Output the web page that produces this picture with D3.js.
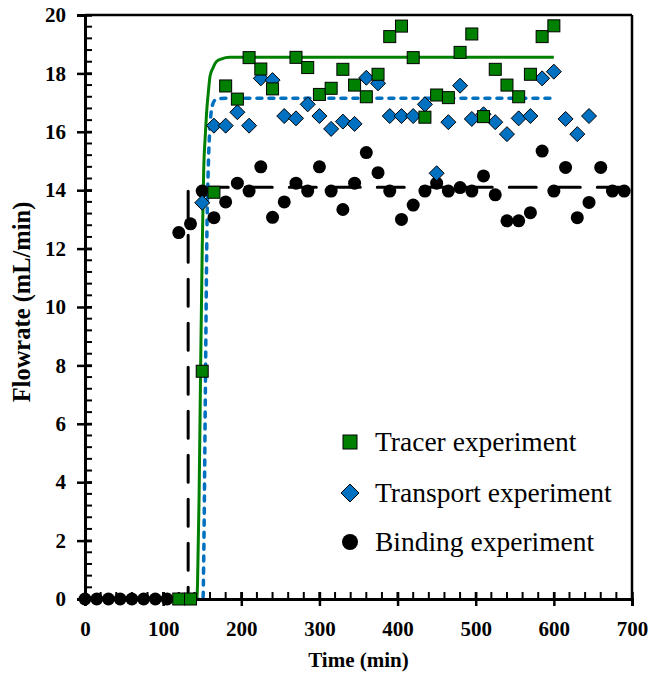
<!DOCTYPE html>
<html><head><meta charset="utf-8">
<script src="https://cdn.jsdelivr.net/npm/d3@7"></script>
<style>body{margin:0;background:#fff} svg{display:block}</style>
</head><body>
<svg id="chart" width="655" height="679"></svg>
<script>
// ---------- data ----------
const xTicks = [0,100,200,300,400,500,600,700];
const yTicks = [0,2,4,6,8,10,12,14,16,18,20];

const tracerTime = [120,135,150,165,180,195,210,225,240,270,285,300,315,330,345,360,375,390,405,420,435,450,465,480,495,510,525,540,555,570,585,600];
const tracerFlow = [0,0,7.8,13.93,17.57,17.12,18.54,18.15,17.47,18.55,18.2,17.28,17.49,18.14,17.6,17.2,17.97,19.26,19.62,18.54,16.5,17.26,17.17,18.72,19.35,16.52,18.14,17.6,17.2,17.97,19.26,19.63];

const transportTime = [150,165,180,195,210,225,240,255,270,285,300,315,330,345,360,375,390,405,420,435,450,465,480,495,510,525,540,555,570,585,600,615,630,645];
const transportFlow = [13.57,16.21,16.21,16.67,16.21,17.83,17.77,16.54,16.46,16.94,16.54,16.1,16.35,16.27,17.85,17.66,16.54,16.54,16.54,16.94,14.58,16.33,17.58,16.44,16.6,16.33,15.92,16.46,16.54,17.83,18.06,16.44,15.92,16.54];

const bindingTime = [0,15,30,45,60,75,90,105,120,135,150,165,180,195,210,225,240,255,270,285,300,315,330,345,360,375,390,405,420,435,450,465,480,495,510,525,540,555,570,585,600,615,630,645,660,675,690];
const bindingFlow = [0,0,0,0,0,0,0,0,12.55,12.85,13.97,13.06,13.6,14.24,13.97,14.8,13.07,13.6,14.24,13.97,14.8,13.97,13.34,14.24,15.29,14.6,13.97,13.0,13.49,13.97,14.24,13.97,14.09,13.97,14.49,13.84,12.95,12.95,13.23,15.34,13.97,14.78,13.06,13.58,14.78,13.97,13.97];

const tracerModelTime = [0,143,144,146,148,150,152,154,156,158,160,164,168,175,185,600];
const tracerModelFlow = [0,0,0.5,3.5,8,12,14.8,15.9,16.8,17.4,17.9,18.2,18.4,18.5,18.55,18.55];

const transportModelTime = [0,151,152,154,156,158,160,163,167,172,180,600];
const transportModelFlow = [0,0,1.5,7,12.5,15,16.2,16.9,17.1,17.13,17.15,17.15];

const bindingModelTime = [0,132,132,700];
const bindingModelFlow = [0,0,14.1,14.1];

const legendLabels = ["Tracer experiment","Transport experiment","Binding experiment"];

// ---------- drawing ----------
const GREEN = "#008000", BLUE = "#0070C0", BLACK = "#000";
const FONT = "'Liberation Serif','Times New Roman',serif";
const svg = d3.select("#chart");
const x = d3.scaleLinear().domain([0,700]).range([85,632]);
const y = d3.scaleLinear().domain([0,20]).range([599,15]);
const zip = (a,b) => a.map((v,i)=>[v,b[i]]);

// model lines
svg.append("path").datum(zip(bindingModelTime,bindingModelFlow))
  .attr("d", d3.line().x(d=>x(d[0])).y(d=>y(d[1])).curve(d3.curveLinear)).attr("fill","none").attr("stroke",BLACK)
  .attr("stroke-width",3).attr("stroke-dasharray","27,17").attr("stroke-linecap","round").attr("stroke-linejoin","round");
svg.append("path").datum(zip(transportModelTime,transportModelFlow))
  .attr("d", d3.line().x(d=>x(d[0])).y(d=>y(d[1])).curve(d3.curveMonotoneX)).attr("fill","none").attr("stroke",BLUE)
  .attr("stroke-width",3.5).attr("stroke-dasharray","5,7").attr("stroke-linecap","round");
svg.append("path").datum(zip(tracerModelTime,tracerModelFlow))
  .attr("d", d3.line().x(d=>x(d[0])).y(d=>y(d[1])).curve(d3.curveMonotoneX)).attr("fill","none").attr("stroke",GREEN)
  .attr("stroke-width",3);

// axes frame
const frame = svg.append("g").attr("stroke",BLACK).attr("fill","none");
frame.append("line").attr("x1",x(0)).attr("x2",x(700)).attr("y1",y(20)).attr("y2",y(20)).attr("stroke-width",2.5);
frame.append("line").attr("x1",x(700)).attr("x2",x(700)).attr("y1",y(20)).attr("y2",y(0)).attr("stroke-width",2.5);

// minor ticks
svg.append("g").selectAll("line").data(d3.range(0,701,20)).join("line")
  .attr("x1",d=>x(d)).attr("x2",d=>x(d)).attr("y1",y(0)).attr("y2",y(0)-7)
  .attr("stroke",BLACK).attr("stroke-width",2);
svg.append("g").selectAll("line").data(d3.range(0,20.01,0.4)).join("line")
  .attr("y1",d=>y(d)).attr("y2",d=>y(d)).attr("x1",x(0)).attr("x2",x(0)+7)
  .attr("stroke",BLACK).attr("stroke-width",2);

// x axis
const gx = svg.append("g").attr("transform",`translate(0,${y(0)})`)
  .call(d3.axisBottom(x).tickValues(xTicks).tickSize(7).tickPadding(15).tickFormat(d3.format("d")));
gx.select(".domain").attr("stroke-width",3);
gx.selectAll(".tick line").attr("y1",-7).attr("stroke-width",2.5);
gx.selectAll(".tick text").attr("font-family",FONT).attr("font-weight","bold").attr("font-size",21).attr("fill",BLACK);

// y axis
const gy = svg.append("g").attr("transform",`translate(${x(0)},0)`)
  .call(d3.axisLeft(y).tickValues(yTicks).tickSize(8).tickPadding(11).tickFormat(d3.format("d")));
gy.select(".domain").attr("stroke-width",3);
gy.selectAll(".tick line").attr("x1",7).attr("stroke-width",2.5);
gy.selectAll(".tick text").attr("font-family",FONT).attr("font-weight","bold").attr("font-size",21).attr("fill",BLACK);
svg.selectAll(".domain").attr("stroke",BLACK);

// axis titles
svg.append("text").attr("x",(x(0)+x(700))/2).attr("y",667).attr("text-anchor","middle")
  .attr("font-family",FONT).attr("font-weight","bold").attr("font-size",21).text("Time (min)");
svg.append("text").attr("transform",`translate(30,302) rotate(-90)`).attr("text-anchor","middle")
  .attr("font-family",FONT).attr("font-weight","bold").attr("font-size",24.5).text("Flowrate (mL/min)");

// markers
const sq = 12, dia = 7.5, rad = 6.5;
svg.append("g").selectAll("circle").data(zip(bindingTime,bindingFlow)).join("circle")
  .attr("cx",d=>x(d[0])).attr("cy",d=>y(d[1])).attr("r",rad).attr("fill",BLACK);
svg.append("g").selectAll("path").data(zip(transportTime,transportFlow)).join("path")
  .attr("d",d=>`M${x(d[0])},${y(d[1])-dia}L${x(d[0])+dia},${y(d[1])}L${x(d[0])},${y(d[1])+dia}L${x(d[0])-dia},${y(d[1])}Z`)
  .attr("fill",BLUE).attr("stroke",BLACK).attr("stroke-width",1);
svg.append("g").selectAll("rect").data(zip(tracerTime,tracerFlow)).join("rect")
  .attr("x",d=>x(d[0])-sq/2).attr("y",d=>y(d[1])-sq/2).attr("width",sq).attr("height",sq)
  .attr("fill",GREEN).attr("stroke",BLACK).attr("stroke-width",1);

// legend
const lg = svg.append("g");
const ly = [442,493,542];
lg.append("rect").attr("x",350-7).attr("y",ly[0]-7).attr("width",14).attr("height",14).attr("fill",GREEN).attr("stroke",BLACK).attr("stroke-width",1);
lg.append("path").attr("d",`M350,${ly[1]-9}L359,${ly[1]}L350,${ly[1]+9}L341,${ly[1]}Z`).attr("fill",BLUE).attr("stroke",BLACK).attr("stroke-width",1);
lg.append("circle").attr("cx",350).attr("cy",ly[2]).attr("r",8).attr("fill",BLACK);
lg.selectAll("text").data(legendLabels).join("text")
  .attr("x",375).attr("y",(d,i)=>ly[i]+9).attr("font-family",FONT).attr("font-size",27.5).attr("fill",BLACK).text(d=>d);
</script>
</body></html>
